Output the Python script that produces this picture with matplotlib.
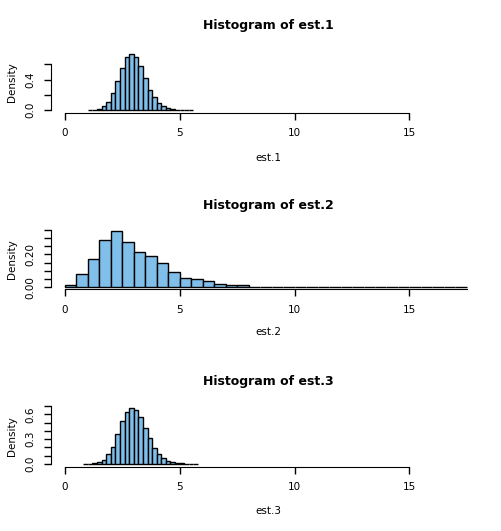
import numpy as np
import matplotlib
matplotlib.use("Agg")
import matplotlib.pyplot as plt

W, H = 501, 531
fill = "#7FBFEA"

# est.1: bins of width 0.2 starting at 1.0
est1_start, est1_width = 1.0, 0.2
est1_dens = [0.003, 0.005, 0.012, 0.05, 0.11, 0.23, 0.38, 0.55, 0.69, 0.73, 0.70,
             0.58, 0.42, 0.27, 0.17, 0.09, 0.05, 0.025, 0.012, 0.008, 0.004, 0.002, 0.001]
# est.2: bins of width 0.5 starting at 0
est2_start, est2_width = 0.0, 0.5
est2_dens = [0.012, 0.079, 0.17, 0.285, 0.34, 0.273, 0.212, 0.188, 0.145, 0.091,
             0.055, 0.048, 0.036, 0.018, 0.012, 0.011, 0.003, 0.003, 0.003, 0.003,
             0.003, 0.0005, 0.0004, 0.0003, 0.0003, 0.0002, 0.0002, 0.0002, 0.0002,
             0.0002, 0.0002, 0.0002, 0.0002, 0.0002, 0.0003]
# est.3: bins of width 0.2 starting at 0.8
est3_start, est3_width = 0.8, 0.2
est3_dens = [0.001, 0.002, 0.008, 0.024, 0.05, 0.12, 0.21, 0.36, 0.52, 0.625, 0.67,
             0.65, 0.57, 0.43, 0.31, 0.19, 0.12, 0.07, 0.04, 0.025, 0.015, 0.008,
             0.004, 0.002, 0.001]

xticks = [0, 5, 10, 15]

panels = [
    dict(name="est.1", start=est1_start, width=est1_width, dens=est1_dens,
         ylim=(-0.03, 0.76), yticks=[0, 0.2, 0.4, 0.6], ylabels=["0.0", "", "0.4", ""],
         xend=15, top=52, bottom=112.5, title_y=25, xlab_y=158),
    dict(name="est.2", start=est2_start, width=est2_width, dens=est2_dens,
         ylim=(-0.013, 0.355), yticks=[0, 0.05, 0.1, 0.15, 0.2, 0.25, 0.3, 0.35],
         ylabels=["0.00", "", "", "", "0.20", "", "", ""],
         xend=17.5, top=228.7, bottom=289.4, title_y=205, xlab_y=332),
    dict(name="est.3", start=est3_start, width=est3_width, dens=est3_dens,
         ylim=(-0.03, 0.7), yticks=[0, 0.1, 0.2, 0.3, 0.4, 0.5, 0.6, 0.7],
         ylabels=["0.0", "", "", "0.3", "", "", "0.6", ""],
         xend=15, top=406, bottom=466.5, title_y=381, xlab_y=511),
]

fig = plt.figure(figsize=(W / 100, H / 100), dpi=100)
left, right = 51, 483
for p in panels:
    ax = fig.add_axes([left / W, 1 - p["bottom"] / H, (right - left) / W,
                       (p["bottom"] - p["top"]) / H])
    d = np.array(p["dens"])
    edges = p["start"] + p["width"] * np.arange(len(d))
    ax.bar(edges, d, width=p["width"], align="edge", color=fill,
           edgecolor="black", linewidth=1.0)
    ax.set_xlim(-0.6, 18.2)
    ax.set_ylim(*p["ylim"])
    for s in ["top", "right"]:
        ax.spines[s].set_visible(False)
    ax.spines["bottom"].set_bounds(0, p["xend"])
    ax.spines["left"].set_bounds(0, p["yticks"][-1])
    ax.set_xticks(xticks)
    ax.set_xticklabels([str(t) for t in xticks], fontsize=7.5)
    ax.set_yticks(p["yticks"])
    ax.set_yticklabels(p["ylabels"], fontsize=7.5, rotation=90, va="center")
    ax.tick_params(length=5, width=1, pad=6)
    ax.set_ylabel("Density", fontsize=7.5, labelpad=6)
    fig.text(268 / W, 1 - p["title_y"] / H, "Histogram of " + p["name"],
             ha="center", va="center", fontsize=9, fontweight="bold")
    fig.text(268 / W, 1 - p["xlab_y"] / H, p["name"],
             ha="center", va="center", fontsize=7.5)

fig.savefig("out.png", dpi=100)
